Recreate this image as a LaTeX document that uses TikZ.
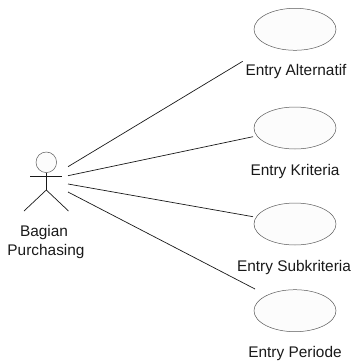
\documentclass[tikz,border=0pt]{standalone}
\usepackage{fontspec}
\setmainfont{Liberation Sans}
\usetikzlibrary{shapes.geometric}
\tikzset{
  usecase/.style={draw=black!65,line width=0.5pt,fill=white!99!black,ellipse,minimum width=82pt,minimum height=42pt,inner sep=0pt},
  lbl/.style={font=\fontsize{15.4}{17}\selectfont,text=black!90,inner sep=0pt,anchor=center},
  assoc/.style={draw=black!90,line width=0.7pt},
  actorline/.style={draw=black!90,line width=0.7pt},
}
\begin{document}
\begin{tikzpicture}[x=1pt,y=-1pt]
\useasboundingbox (0,0) rectangle (351,361);
\node[usecase] (uc1) at (295,29.3) {};
\node[usecase] (uc2) at (295,128) {};
\node[usecase] (uc3) at (295,224) {};
\node[usecase] (uc4) at (295,310.7) {};
\node[lbl] (l1) at (296,72) {Entry Alternatif};
\node[lbl] (l2) at (295,171.5) {Entry Kriteria};
\node[lbl] (l3) at (294,268) {Entry Subkriteria};
\node[lbl] (l4) at (295,353.5) {Entry Periode};
\node[lbl] (a1) at (44,233) {Bagian};
\node[lbl] (a2) at (46,251.5) {Purchasing};
% actor
\node[draw=black!65,line width=0.5pt,circle,minimum size=20.6pt,inner sep=0pt,fill=white!99!black] (head) at (46.3,162.3) {};
\coordinate (hip) at (46.3,190);
\coordinate (armL) at (30,176);
\coordinate (armR) at (62,176);
\coordinate (legL) at (24,211);
\coordinate (legR) at (68.5,211);
\draw[actorline] (head.south) -- (hip);
\draw[actorline] (armL) -- (armR);
\draw[actorline] (legL) -- (hip) -- (legR);
% associations
\coordinate (s1) at (68,166.7); \coordinate (e1) at (242.7,61.3);
\coordinate (s2) at (68,175.7); \coordinate (e2) at (253,136.7);
\coordinate (s3) at (68,184);   \coordinate (e3) at (253,216.7);
\coordinate (s4) at (68,192);   \coordinate (e4) at (255,289);
\draw[assoc] (s1) -- (e1);
\draw[assoc] (s2) -- (e2);
\draw[assoc] (s3) -- (e3);
\draw[assoc] (s4) -- (e4);
\end{tikzpicture}
\end{document}
